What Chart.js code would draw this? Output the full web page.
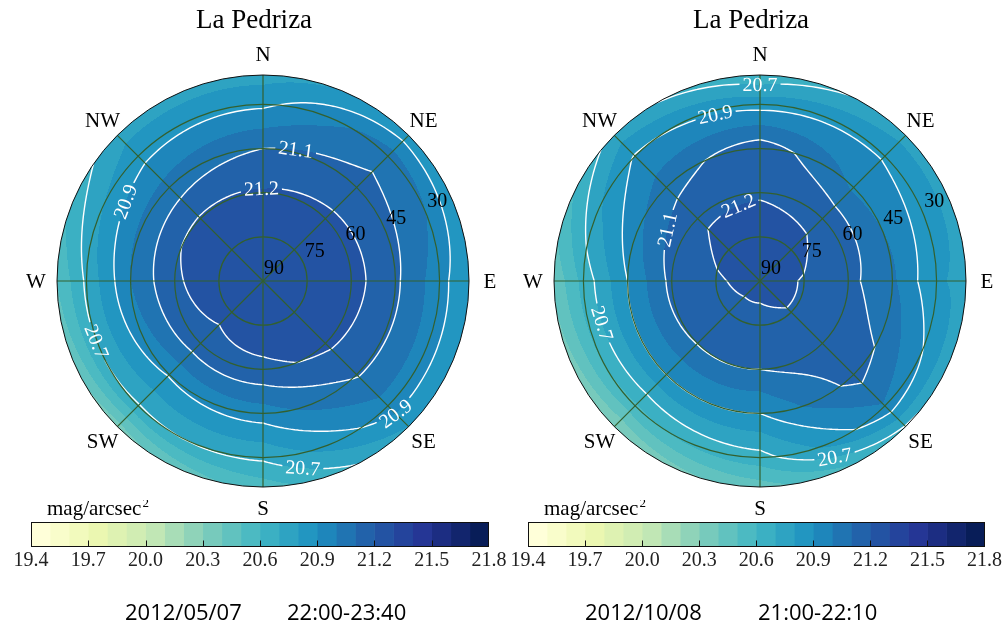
<!DOCTYPE html>
<html>
<head>
<meta charset="utf-8">
<script src="https://cdn.jsdelivr.net/npm/chart.js@4"></script>
<style>
  body { margin: 0; background: #fff; width: 1004px; height: 627px; position: relative; overflow: hidden; }
  canvas { position: absolute; }
</style>
</head>
<body>
<canvas id="polarL" width="502" height="627" style="left:0;top:0"></canvas>
<canvas id="polarR" width="502" height="627" style="left:502px;top:0"></canvas>
<canvas id="barL" width="520" height="80" style="left:0;top:500px"></canvas>
<canvas id="barR" width="502" height="80" style="left:502px;top:500px"></canvas>
<script>
// sky grid: rows are altitudes, columns are azimuths N, NE, E, SE, S, SW, W, NW
var altRows = [90, 75, 60, 45, 30, 20];
var azCols = [0, 45, 90, 135, 180, 225, 270, 315];
var compass = ['N', 'NE', 'E', 'SE', 'S', 'SW', 'W', 'NW'];
var ringTicks = [90, 75, 60, 45, 30];
var levels = [19.4, 19.5, 19.6, 19.7, 19.8, 19.9, 20.0, 20.1, 20.2, 20.3, 20.4, 20.5,
              20.6, 20.7, 20.8, 20.9, 21.0, 21.1, 21.2, 21.3, 21.4, 21.5, 21.6, 21.7, 21.8];
var cbTicks = [19.4, 19.7, 20.0, 20.3, 20.6, 20.9, 21.2, 21.5, 21.8];
var contourLevels = [20.7, 20.9, 21.1, 21.2];

// 2012/05/07 22:00-23:40
var mayZenith = 21.27;
var may75 = [21.25, 21.25, 21.25, 21.25, 21.25, 21.22, 21.24, 21.25];
var may60 = [21.21, 21.22, 21.24, 21.22, 21.18, 21.17, 21.19, 21.21];
var may45 = [21.10, 21.14, 21.12, 21.11, 20.95, 20.91, 21.00, 21.04];
var may30 = [20.88, 21.06, 20.94, 20.96, 20.72, 20.69, 20.72, 20.86];
var may20 = [20.76, 20.84, 20.81, 20.80, 20.55, 20.35, 20.50, 20.76];

// 2012/10/08 21:00-22:10
var octZenith = 21.23;
var oct75 = [21.225, 21.22, 21.195, 21.195, 21.17, 21.17, 21.19, 21.22];
var oct60 = [21.195, 21.18, 21.13, 21.16, 21.10, 21.105, 21.13, 21.19];
var oct45 = [21.16, 20.98, 21.02, 21.14, 20.90, 20.90, 20.90, 21.05];
var oct30 = [20.86, 20.89, 20.81, 20.99, 20.66, 20.58, 20.635, 20.91];
var oct20 = [20.62, 20.76, 20.78, 20.69, 20.45, 20.30, 20.42, 20.74];

var titles = ['La Pedriza', 'La Pedriza'];
var dates = ['2012/05/07', '2012/10/08'];
var times = ['22:00-23:40', '21:00-22:10'];

// YlGnBu
var ylgnbu = [[255,255,217],[237,248,177],[199,233,180],[127,205,187],[65,182,196],
              [29,145,192],[34,94,168],[37,52,148],[8,29,88]];
function cmap(t) {
  var s = t * (ylgnbu.length - 1);
  var i = Math.min(Math.floor(s), ylgnbu.length - 2);
  var f = s - i;
  return ylgnbu[i].map(function (c, k) { return Math.round(c + (ylgnbu[i + 1][k] - c) * f); });
}
var bandRGB = levels.slice(0, -1).map(function (_, i) { return cmap(i / (levels.length - 2)); });
var bandColors = bandRGB.map(function (c) { return 'rgb(' + c.join(',') + ')'; });

function bandIndex(v) {
  var i = 0;
  while (i < levels.length - 2 && v >= levels[i + 1]) i++;
  return i;
}

function makeGrid(zen, rows) {
  return [azCols.map(function () { return zen; })].concat(rows);
}

var zdRows = altRows.map(function (a) { return 90 - a; });
var zMax = zdRows[zdRows.length - 1];

function skyValue(grid, zd, az) {
  if (zd > zMax) zd = zMax;
  var j = 0;
  while (j < zdRows.length - 2 && zd > zdRows[j + 1]) j++;
  var t = (zd - zdRows[j]) / (zdRows[j + 1] - zdRows[j]);
  var a = ((az % 360) + 360) % 360;
  var step = 360 / azCols.length;
  var i = Math.floor(a / step) % azCols.length;
  var i2 = (i + 1) % azCols.length;
  var u = (a - i * step) / step;
  var lo = grid[j][i] + (grid[j][i2] - grid[j][i]) * u;
  var hi = grid[j + 1][i] + (grid[j + 1][i2] - grid[j + 1][i]) * u;
  return lo + (hi - lo) * t;
}

var serif = '"Liberation Serif", "Times New Roman", serif';

function skyPlugin(p) {
  return {
    id: 'sky' + p.idx,
    afterDraw: function (chart) {
      var ctx = chart.ctx, sx = chart.scales.x, sy = chart.scales.y, area = chart.chartArea;
      var grid = p.grid;
      var cx = sx.getPixelForValue(0), cy = sy.getPixelForValue(0);
      var R = sx.getPixelForValue(zMax) - cx;
      function toPx(zd, az) {
        var a = az * Math.PI / 180;
        return [sx.getPixelForValue(zd * Math.sin(a)), sy.getPixelForValue(zd * Math.cos(a))];
      }
      function atPx(px, py) {
        var X = sx.getValueForPixel(px), Y = sy.getValueForPixel(py);
        return skyValue(grid, Math.hypot(X, Y), Math.atan2(X, Y) * 180 / Math.PI);
      }

      // filled bands
      var w = Math.ceil(area.right - area.left), h = Math.ceil(area.bottom - area.top);
      var off = document.createElement('canvas');
      off.width = w; off.height = h;
      var octx = off.getContext('2d');
      var img = octx.createImageData(w, h);
      for (var py = 0; py < h; py++) {
        for (var px = 0; px < w; px++) {
          var X = sx.getValueForPixel(area.left + px + 0.5);
          var Y = sy.getValueForPixel(area.top + py + 0.5);
          var zd = Math.hypot(X, Y);
          if (zd > zMax + 1) continue;
          var c = bandRGB[bandIndex(skyValue(grid, zd, Math.atan2(X, Y) * 180 / Math.PI))];
          var o = (py * w + px) * 4;
          img.data[o] = c[0]; img.data[o + 1] = c[1]; img.data[o + 2] = c[2]; img.data[o + 3] = 255;
        }
      }
      octx.putImageData(img, 0, 0);
      ctx.save();
      ctx.beginPath();
      ctx.arc(cx, cy, R, 0, Math.PI * 2);
      ctx.clip();
      ctx.drawImage(off, area.left, area.top);
      ctx.restore();

      // contour labels
      ctx.font = '20px ' + serif;
      var labels = p.labels.map(function (l) {
        var lv = l[0], az = l[1], prev = skyValue(grid, 0, az), zdc = null;
        for (var z = 0.25; z <= zMax; z += 0.25) {
          var v = skyValue(grid, z, az);
          if ((prev - lv) * (v - lv) <= 0 && prev !== v) { zdc = z - 0.25 + 0.25 * (prev - lv) / (prev - v); break; }
          prev = v;
        }
        if (zdc === null) zdc = zMax;
        var pt = toPx(zdc, az);
        var gx = atPx(pt[0] + 1, pt[1]) - atPx(pt[0] - 1, pt[1]);
        var gy = atPx(pt[0], pt[1] + 1) - atPx(pt[0], pt[1] - 1);
        var ang = Math.atan2(gx, -gy);
        if (ang > Math.PI / 2) ang -= Math.PI;
        if (ang <= -Math.PI / 2) ang += Math.PI;
        var text = lv.toFixed(1);
        return { x: pt[0], y: pt[1], ang: ang, text: text, w: ctx.measureText(text).width + 6, h: 12 };
      });

      // contour lines
      var nA = 240, nZ = 140, dA = 360 / nA, dZ = zMax / nZ;
      var F = [];
      for (var k = 0; k <= nZ; k++) {
        var row = [];
        for (var i = 0; i <= nA; i++) row.push(skyValue(grid, k * dZ, i * dA));
        F.push(row);
      }
      ctx.save();
      ctx.beginPath();
      ctx.rect(0, 0, chart.width, chart.height);
      labels.forEach(function (l) {
        var cs = Math.cos(l.ang), sn = Math.sin(l.ang);
        var pts = [[-l.w / 2, -l.h / 2], [l.w / 2, -l.h / 2], [l.w / 2, l.h / 2], [-l.w / 2, l.h / 2]];
        pts.forEach(function (q, n) {
          var X = l.x + q[0] * cs - q[1] * sn, Y = l.y + q[0] * sn + q[1] * cs;
          if (n === 0) ctx.moveTo(X, Y); else ctx.lineTo(X, Y);
        });
        ctx.closePath();
      });
      ctx.clip('evenodd');
      ctx.beginPath();
      contourLevels.forEach(function (lv) {
        for (var k = 0; k < nZ; k++) {
          for (var i = 0; i < nA; i++) {
            var cn = [[k, i], [k, i + 1], [k + 1, i + 1], [k + 1, i]];
            var vs = cn.map(function (q) { return F[q[0]][q[1]] - lv; });
            var pts = [];
            for (var e = 0; e < 4; e++) {
              var a = cn[e], b = cn[(e + 1) % 4], va = vs[e], vb = vs[(e + 1) % 4];
              if ((va < 0) !== (vb < 0)) {
                var t = va / (va - vb);
                pts.push(toPx((a[0] + (b[0] - a[0]) * t) * dZ, (a[1] + (b[1] - a[1]) * t) * dA));
              }
            }
            if (pts.length >= 2) {
              ctx.moveTo(pts[0][0], pts[0][1]); ctx.lineTo(pts[1][0], pts[1][1]);
              if (pts.length === 4) { ctx.moveTo(pts[2][0], pts[2][1]); ctx.lineTo(pts[3][0], pts[3][1]); }
            }
          }
        }
      });
      ctx.strokeStyle = '#ffffff';
      ctx.lineWidth = 1.4;
      ctx.lineCap = 'round';
      ctx.stroke();
      ctx.restore();

      // polar grid
      ctx.save();
      ctx.strokeStyle = '#33602e';
      ctx.lineWidth = 1.2;
      ringTicks.forEach(function (alt) {
        var zd = 90 - alt;
        if (zd <= 0) return;
        ctx.beginPath();
        ctx.arc(cx, cy, sx.getPixelForValue(zd) - cx, 0, Math.PI * 2);
        ctx.stroke();
      });
      azCols.forEach(function (az) {
        var e = toPx(zMax, az);
        ctx.beginPath();
        ctx.moveTo(cx, cy);
        ctx.lineTo(e[0], e[1]);
        ctx.stroke();
      });
      ctx.strokeStyle = '#111';
      ctx.lineWidth = 1;
      ctx.beginPath();
      ctx.arc(cx, cy, R, 0, Math.PI * 2);
      ctx.stroke();

      // contour label text
      ctx.fillStyle = '#ffffff';
      ctx.font = '20px ' + serif;
      ctx.textAlign = 'center';
      ctx.textBaseline = 'middle';
      labels.forEach(function (l) {
        ctx.save();
        ctx.translate(l.x, l.y);
        ctx.rotate(l.ang);
        ctx.fillText(l.text, 0, 1);
        ctx.restore();
      });

      // ring labels along 22.5 deg
      ctx.fillStyle = '#000';
      var ra = 22.5 * Math.PI / 180;
      ringTicks.forEach(function (alt) {
        var r = sx.getPixelForValue(90 - alt) - cx;
        ctx.fillText(String(alt), cx + r * Math.cos(ra) + 11, cy - r * Math.sin(ra) - 12);
      });

      // compass labels
      ctx.font = '21px ' + serif;
      azCols.forEach(function (az, n) {
        var a = az * Math.PI / 180;
        ctx.fillText(compass[n], cx + (R + 21) * Math.sin(a), cy - (R + 21) * Math.cos(a) + 1);
      });

      // title
      ctx.font = '27px ' + serif;
      ctx.textBaseline = 'alphabetic';
      ctx.fillText(p.title, cx - 9, 28);

      // date / time
      ctx.font = '22px "Open Sans", Lato, sans-serif';
      ctx.textAlign = 'left';
      ctx.fillText(p.date, p.dateX, 620);
      ctx.fillText(p.time, p.timeX, 620);
      ctx.restore();
    }
  };
}

function makePolar(id, p, padLeft, padRight) {
  return new Chart(document.getElementById(id), {
    type: 'scatter',
    data: { datasets: [] },
    options: {
      responsive: false,
      animation: false,
      layout: { padding: { left: padLeft, right: padRight, top: 75, bottom: 140 } },
      plugins: { legend: { display: false }, tooltip: { enabled: false } },
      scales: {
        x: { type: 'linear', min: -zMax, max: zMax, display: false },
        y: { type: 'linear', min: -zMax, max: zMax, display: false }
      }
    },
    plugins: [skyPlugin(p)]
  });
}

var cbPlugin = {
  id: 'cbFrame',
  afterDraw: function (chart) {
    var ctx = chart.ctx, a = chart.chartArea, sx = chart.scales.x;
    ctx.save();
    ctx.strokeStyle = '#111';
    ctx.lineWidth = 1;
    cbTicks.slice(1, -1).forEach(function (v) {
      var x = Math.round(sx.getPixelForValue(v)) + 0.5;
      ctx.beginPath();
      ctx.moveTo(x, a.bottom);
      ctx.lineTo(x, a.bottom - 6);
      ctx.stroke();
    });
    ctx.strokeRect(Math.round(a.left) + 0.5, Math.round(a.top) + 0.5, Math.round(a.right - a.left) - 1, Math.round(a.bottom - a.top) - 1);
    ctx.fillStyle = '#000';
    ctx.textBaseline = 'alphabetic';
    ctx.font = '21px ' + serif;
    var x0 = a.left + 16;
    ctx.fillText('mag/arcsec', x0, 15);
    var wd = ctx.measureText('mag/arcsec').width;
    ctx.font = '13px ' + serif;
    ctx.fillText('2', x0 + wd + 1, 7);
    ctx.restore();
  }
};

function makeColorbar(id, padLeft, padRight) {
  return new Chart(document.getElementById(id), {
    type: 'bar',
    data: {
      labels: ['mag/arcsec2'],
      datasets: bandColors.map(function (c, i) {
        return {
          data: [[levels[i], levels[i + 1]]],
          backgroundColor: c,
          borderWidth: 0,
          grouped: false,
          barPercentage: 1,
          categoryPercentage: 1
        };
      })
    },
    options: {
      indexAxis: 'y',
      responsive: false,
      animation: false,
      layout: { padding: { left: padLeft, right: padRight, top: 22, bottom: 9 } },
      plugins: { legend: { display: false }, tooltip: { enabled: false } },
      scales: {
        x: {
          type: 'linear',
          min: levels[0],
          max: levels[levels.length - 1],
          grid: { display: false, drawTicks: false },
          border: { display: false },
          afterBuildTicks: function (s) { s.ticks = cbTicks.map(function (v) { return { value: v }; }); },
          ticks: {
            color: '#222',
            padding: 2,
            maxRotation: 0,
            autoSkip: false,
            font: { family: serif, size: 20 },
            callback: function (v) { return Number(v).toFixed(1); }
          }
        },
        y: { display: false }
      }
    },
    plugins: [cbPlugin]
  });
}

makePolar('polarL', {
  idx: 0, grid: makeGrid(mayZenith, [may75, may60, may45, may30, may20]),
  title: titles[0], date: dates[0], time: times[0], dateX: 125, timeX: 287,
  labels: [[21.1, 14], [21.2, 359], [20.9, 300], [20.7, 250], [20.9, 135], [20.7, 168]]
}, 57, 33);

makePolar('polarR', {
  idx: 1, grid: makeGrid(octZenith, [oct75, oct60, oct45, oct30, oct20]),
  title: titles[1], date: dates[1], time: times[1], dateX: 83, timeX: 256,
  labels: [[20.7, 0], [20.9, 345], [21.1, 299], [21.2, 344], [20.7, 255], [20.7, 157]]
}, 52, 38);

makeColorbar('barL', 31, 31);
makeColorbar('barR', 26, 18);
</script>
</body>
</html>
